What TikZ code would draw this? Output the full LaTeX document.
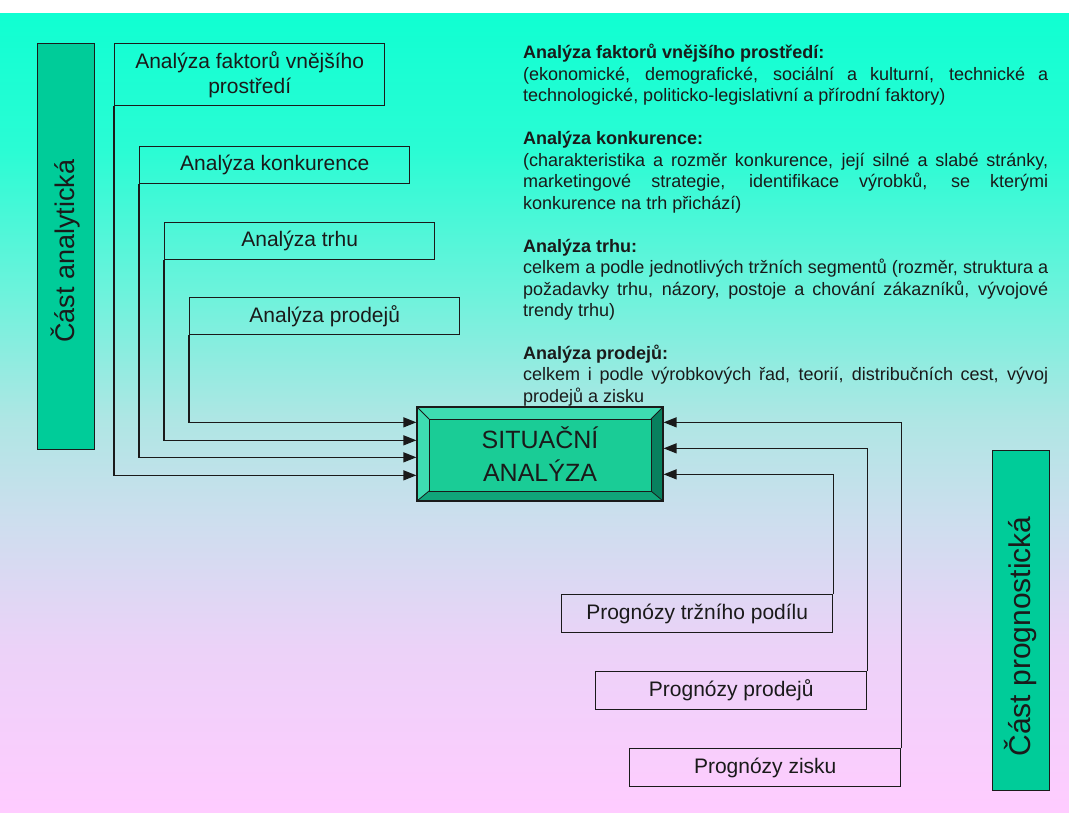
\documentclass[tikz,border=0pt]{standalone}
\usepackage{fontspec}
\setmainfont{Liberation Sans}
\usetikzlibrary{arrows.meta,calc}

% palette
\definecolor{ink}{RGB}{26,26,26}
\definecolor{barfill}{RGB}{0,204,153}
\definecolor{saface}{RGB}{26,204,150}
\definecolor{salit}{RGB}{62,220,178}
\definecolor{sadark}{RGB}{8,128,94}
\definecolor{sabottom}{RGB}{16,165,122}
% page background, top to bottom
\definecolor{bgA}{RGB}{16,255,210}
\definecolor{bgB}{RGB}{42,252,212}
\definecolor{bgC}{RGB}{112,242,220}
\definecolor{bgD}{RGB}{175,230,228}
\definecolor{bgE}{RGB}{205,222,238}
\definecolor{bgF}{RGB}{236,210,248}
\definecolor{bgG}{RGB}{255,204,255}
\pgfdeclareverticalshading{pagebg}{100bp}{%
  color(0bp)=(bgG); color(25bp)=(bgG); color(35.14bp)=(bgF);
  color(43.27bp)=(bgE); color(49.53bp)=(bgD); color(57.04bp)=(bgC);
  color(66.43bp)=(bgB); color(75bp)=(bgA); color(100bp)=(bgA)}

% no hyphenation in the description paragraphs
\newcommand{\nohyph}{\hyphenpenalty=10000\relax\exhyphenpenalty=10000\relax}

\begin{document}
\begin{tikzpicture}[x=1pt,y=-1pt,
  framebox/.style={draw=ink, line width=1.4pt, rectangle, inner sep=0pt,
    minimum width=270pt, minimum height=37pt, anchor=north west,
    align=center, text=ink, font=\fontsize{21}{25}\selectfont},
  partbar/.style={draw=ink, fill=barfill, line width=1.4pt, rectangle,
    inner sep=0pt, anchor=north west},
  partlabel/.style={rotate=90, text=ink, inner sep=0pt},
  feed/.style={draw=ink, line width=1.4pt, -{Triangle[length=13pt,width=10pt]}},
  desc/.style={anchor=base west, inner sep=0pt, text width=525pt,
    align=justify, text=ink, font=\fontsize{18}{21.5}\selectfont},
  sabox/.style={draw=ink, line width=1.3pt, fill=saface, rectangle,
    inner sep=0pt, align=center, text=ink,
    font=\fontsize{25}{33}\selectfont,
    path picture={
      \coordinate (oNW) at (path picture bounding box.north west);
      \coordinate (oNE) at (path picture bounding box.north east);
      \coordinate (oSW) at (path picture bounding box.south west);
      \coordinate (oSE) at (path picture bounding box.south east);
      \coordinate (iNW) at ($(oNW)+(12,12)$);
      \coordinate (iNE) at ($(oNE)+(-12,12)$);
      \coordinate (iSW) at ($(oSW)+(12,-10)$);
      \coordinate (iSE) at ($(oSE)+(-12,-10)$);
      \fill[salit] (oNW) -- (oNE) -- (iNE) -- (iNW) -- cycle;
      \fill[salit] (oNW) -- (iNW) -- (iSW) -- (oSW) -- cycle;
      \fill[sadark] (oNE) -- (oSE) -- (iSE) -- (iNE) -- cycle;
      \fill[sabottom] (oSW) -- (iSW) -- (iSE) -- (oSE) -- cycle;
      \draw[ink, line width=0.8pt] (iNW) rectangle (iSE);
      \draw[ink, line width=0.8pt] (oNW) -- (iNW) (oNE) -- (iNE)
        (oSW) -- (iSW) (oSE) -- (iSE);
    }}
]
\useasboundingbox (0,0) rectangle (1069,812);
\fill[white] (0,0) rectangle (1069,13);
\shade[shading=pagebg] (0,13) rectangle (1069,812);

% side bars
\node[partbar, minimum width=57pt, minimum height=406pt] (barL) at (37,43) {};
\node[partlabel, font=\fontsize{27}{30}\selectfont] (lblL) at (65.5,251) {Část analytická};
\node[partbar, minimum width=57pt, minimum height=340pt] (barR) at (992,450) {};
\node[partlabel, font=\fontsize{30}{33}\selectfont] (lblR) at (1020.5,636.5) {Část prognostická};

% analytical inputs
\node[framebox, minimum height=62pt] (b1) at (114,43) {Analýza faktorů vnějšího\\prostředí};
\node[framebox] (b2) at (139,146) {Analýza konkurence};
\node[framebox] (b3) at (164,222) {Analýza trhu};
\node[framebox] (b4) at (189,297) {Analýza prodejů};

% forecasting inputs
\node[framebox, minimum width=271pt, minimum height=38pt] (p1) at (561,594) {Prognózy tržního podílu};
\node[framebox, minimum width=271pt, minimum height=38pt] (p2) at (595,671) {Prognózy prodejů};
\node[framebox, minimum width=271pt, minimum height=38pt] (p3) at (629,748) {Prognózy zisku};

% central block
\node[sabox, minimum width=246pt, minimum height=94pt] (sa) at (540,454) {SITUAČNÍ\\ANALÝZA};

% arrow entry points on the central block
\coordinate (inW1) at ($(sa.north west)+(0,16)$);
\coordinate (inW2) at ($(sa.north west)+(0,34)$);
\coordinate (inW3) at ($(sa.north west)+(0,51)$);
\coordinate (inW4) at ($(sa.north west)+(0,69)$);
\coordinate (inE1) at ($(sa.north east)+(0,16)$);
\coordinate (inE2) at ($(sa.north east)+(0,42)$);
\coordinate (inE3) at ($(sa.north east)+(0,68)$);

\draw[feed] (b4.south west) |- (inW1);
\draw[feed] (b3.south west) |- (inW2);
\draw[feed] (b2.south west) |- (inW3);
\draw[feed] (b1.south west) |- (inW4);
\draw[feed] (p3.north east) |- (inE1);
\draw[feed] (p2.north east) |- (inE2);
\draw[feed] (p1.north east) |- (inE3);

% descriptions
\node[desc] (d1) at (523,58.5) {\nohyph\textbf{Analýza faktorů vnějšího prostředí:}\par
(ekonomické, demografické, sociální a kulturní, technické a\linebreak
technologické, politicko-legislativní a přírodní faktory)};
\node[desc] (d2) at (523,144.5) {\nohyph\textbf{Analýza konkurence:}\par
(charakteristika a rozměr konkurence, její silné a slabé stránky,\linebreak
marketingové strategie, identifikace výrobků, se kterými\linebreak
konkurence na trh přichází)};
\node[desc] (d3) at (523,252) {\nohyph\textbf{Analýza trhu:}\par
celkem a podle jednotlivých tržních segmentů (rozměr, struktura a\linebreak
požadavky trhu, názory, postoje a chování zákazníků, vývojové\linebreak
trendy trhu)};
\node[desc] (d4) at (523,359) {\nohyph\textbf{Analýza prodejů:}\par
celkem i podle výrobkových řad, teorií, distribučních cest, vývoj\linebreak
prodejů a zisku};
\end{tikzpicture}
\end{document}
